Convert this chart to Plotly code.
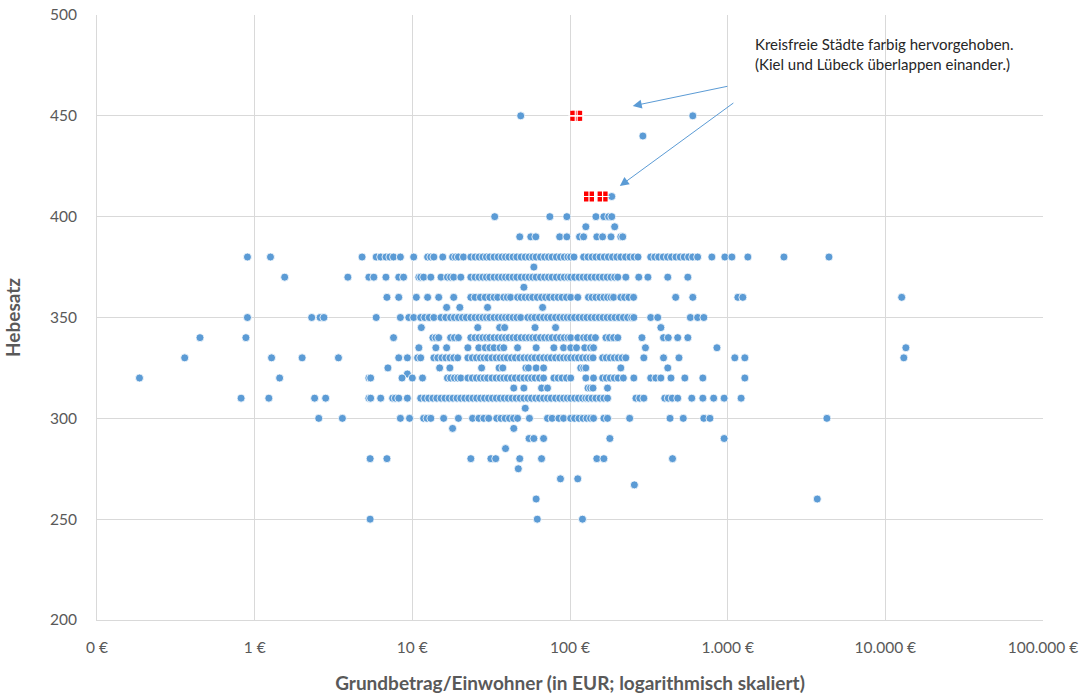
import math
import plotly.graph_objects as go

# Hebesatz rows -> Grundbetrag/Einwohner (EUR)
eur_450 = [48.7, 601]
eur_440 = [290]
eur_410 = [184]
eur_400 = [33.3, 74.5, 95.5, 146, 164, 176, 184]
eur_395 = [126, 192]
eur_390 = [48, 56.4, 60.7, 86, 95.5, 115, 122, 148, 161, 182, 210, 216]
eur_380 = [0.9, 1.26, 4.8, 5.9, 6.3, 6.8, 7.2, 7.6, 8.4, 10.2, 12.5, 13.1, 13.7, 15.6,
           18.0, 18.8, 19.6, 21.1, 23.5, 25, 26.5, 28, 29.5, 31, 33, 35, 37, 39, 41, 43.5,
           46, 49, 52, 55, 58, 61, 65, 69, 73, 77, 82, 87, 92, 97, 101, 106, 122, 130, 138,
           146, 155, 165, 175, 186, 198, 210, 225, 240, 255, 270, 325, 345, 365, 390, 415,
           440, 470, 500, 530, 565, 600, 645, 794, 960, 1064, 1343, 2275, 4390]
eur_375 = [59]
eur_370 = [1.55, 3.9, 5.3, 5.7, 6.8, 8.2, 8.8, 11, 11.3, 11.8, 13.1, 15.2, 16.7, 17.5, 18.3,
           20.3, 23.5, 25, 26.5, 28, 29.5, 31, 33, 35, 37, 39, 41, 43.5, 46, 49, 52, 55, 58,
           61, 65, 69, 73, 77, 82, 87, 92, 97, 101, 107, 114, 121, 128, 136, 144, 153, 162,
           172, 182, 192, 201, 226, 273, 312, 417, 559]
eur_365 = [51]
eur_360 = [6.9, 8.2, 10.6, 12.5, 14.7, 18.3, 23.5, 25, 27, 29, 31, 33, 34.8, 38, 40, 42,
           46.5, 49, 52, 55, 58, 62, 66, 70, 74, 79, 84, 89, 95, 101, 112, 131, 138, 146,
           155, 164, 173, 182, 189, 210, 222, 236, 253, 468, 601, 1161, 1248, 12700]
eur_355 = [16.5, 20, 30, 67]
eur_350 = [0.9, 2.3, 2.6, 2.75, 5.9, 8.4, 9.5, 10.2, 11.3, 12, 12.8, 13.7, 15.2, 16.3,
           17.5, 18.5, 19.6, 20.8, 22, 23.5, 25, 26.5, 28, 29.5, 31, 33, 35, 37, 39, 41,
           43.5, 46, 48.7, 54, 57, 60, 64, 68, 72, 76, 81, 86, 91, 96, 101, 107, 114, 121,
           128, 136, 144, 153, 162, 172, 182, 193, 205, 218, 232, 246, 254, 325, 360, 580,
           645, 706]
eur_345 = [11.4, 26, 35.8, 38.5, 60, 81, 377]
eur_340 = [0.45, 0.88, 7.6, 13.5, 14.1, 14.7, 17.5, 18.5, 19.6, 23.5, 25, 26.5, 28, 29.5,
           31, 33, 35, 37, 39, 41, 43.5, 46, 49, 52, 55, 58, 61, 65, 69, 73, 77, 82, 87, 92,
           97, 101, 112, 122, 128, 136, 145, 169, 178, 189, 201, 286, 392, 420, 482, 559]
eur_335 = [11, 14.1, 16.5, 22.5, 26.4, 29, 31, 33, 36, 38, 46.5, 61, 79, 91, 101, 110, 124,
           135, 141, 301, 855, 13500]
eur_330 = [0.36, 1.28, 2.0, 3.4, 8.2, 9.3, 10.8, 11.3, 13.7, 14.5, 15.4, 16.3, 17.3, 18.3,
           19.4, 22.5, 24, 25.5, 27, 28.5, 30, 32, 34, 36, 38, 40, 42.5, 45, 48, 51, 54, 57,
           60, 64, 68, 72, 76, 81, 86, 91, 96, 101, 107, 113, 120, 127, 134, 140, 161, 170,
           180, 191, 202, 214, 226, 294, 392, 491, 1110, 1285, 13100]
eur_325 = [7.0, 14.9, 17.3, 27.5, 35.5, 37.5, 52.5, 54.5, 61, 68, 117, 122, 126, 210, 417]
eur_322 = [9.3]
eur_320 = [0.186, 1.44, 5.3, 5.44, 8.6, 10, 11.6, 16.7, 17.5, 18.5, 19.4, 20.3, 22.5, 24,
           25.5, 27, 28.5, 30, 32, 34, 36, 38, 40, 42.5, 45, 48, 51, 54, 57, 60, 64, 68, 79,
           84, 89, 95, 101, 126, 141, 161, 170, 180, 191, 202, 218, 254, 325, 350, 377, 437,
           535, 696, 1285]
eur_315 = [44, 51, 66, 72, 130, 135, 140, 173]
eur_310 = [0.82, 1.23, 2.4, 2.82, 5.3, 5.44, 6.3, 7.5, 7.8, 8.2, 9.3, 11.3, 12, 12.7, 13.5,
           14.3, 15.2, 16.1, 17.1, 18.1, 19.2, 20.3, 21.5, 22.8, 24.2, 25.6, 27.1, 28.7,
           30.4, 32.2, 34.1, 36.1, 38.3, 40.5, 42.9, 45.5, 48.2, 51, 54, 57, 60.5, 64, 68,
           72, 76, 81, 86, 91, 96, 101, 107, 113, 120, 126, 131, 138, 146, 155, 164, 173,
           262, 277, 294, 399, 420, 445, 482, 592, 696, 815, 950, 1217]
eur_305 = [52]
eur_300 = [2.55, 3.6, 8.4, 9.6, 11.8, 12.4, 13.1, 15.8, 19.6, 24.1, 26.4, 28.4, 30.5, 34.3,
           36.5, 38.8, 41.3, 43.8, 46.5, 55.3, 72, 77, 85, 91, 101, 107, 114, 121, 128, 135,
           141, 164, 173, 239, 431, 523, 706, 772, 4260]
eur_295 = [18, 44]
eur_290 = [55, 59, 68, 179, 950]
eur_285 = [39]
eur_280 = [5.4, 6.9, 23.5, 31.5, 33.8, 48, 66, 148, 164, 447]
eur_275 = [47]
eur_270 = [87, 112]
eur_267 = [256]
eur_260 = [61, 3700]
eur_250 = [5.4, 62, 120]

rows = [(450, eur_450), (440, eur_440), (410, eur_410), (400, eur_400), (395, eur_395),
        (390, eur_390), (380, eur_380), (375, eur_375), (370, eur_370), (365, eur_365),
        (360, eur_360), (355, eur_355), (350, eur_350), (345, eur_345), (340, eur_340),
        (335, eur_335), (330, eur_330), (325, eur_325), (322, eur_322), (320, eur_320),
        (315, eur_315), (310, eur_310), (305, eur_305), (300, eur_300), (295, eur_295),
        (290, eur_290), (285, eur_285), (280, eur_280), (275, eur_275), (270, eur_270),
        (267, eur_267), (260, eur_260), (250, eur_250)]

# Kreisfreie Staedte (Kiel, Luebeck, Flensburg, Neumuenster)
city_eur = [108, 111, 132, 161]
city_hebesatz = [450, 450, 410, 410]

tick_vals = [0.1, 1, 10, 100, 1000, 10000, 100000]
tick_text = ["0 €", "1 €", "10 €", "100 €", "1.000 €", "10.000 €", "100.000 €"]

x_all = [v for h, vals in rows for v in vals]
y_all = [h for h, vals in rows for v in vals]

grey = "#595959"
blue = "#5b9bd5"
font_family = "Lato, Open Sans, sans-serif"

fig = go.Figure()
fig.add_trace(go.Scatter(
    x=x_all, y=y_all, mode="markers",
    marker=dict(color=blue, size=8, line=dict(color="white", width=0.8)),
    showlegend=False, hoverinfo="x+y"
))
fig.add_trace(go.Scatter(
    x=city_eur, y=city_hebesatz, mode="markers",
    marker=dict(color="#ff0000", symbol="square", size=10, line=dict(width=0)),
    showlegend=False
))
fig.add_trace(go.Scatter(
    x=city_eur, y=city_hebesatz, mode="markers",
    marker=dict(symbol="cross-thin", size=10, line=dict(color="white", width=1.2)),
    showlegend=False, hoverinfo="skip"
))

# arrows from the note to the red markers
arrows = [((250, 454.9), (1018, 464.8)), ((207, 415.2), (1111, 456.9))]
for (tx, ty), (sx, sy) in arrows:
    fig.add_annotation(
        x=math.log10(tx), y=ty, ax=math.log10(sx), ay=sy,
        xref="x", yref="y", axref="x", ayref="y",
        text="", showarrow=True, arrowhead=2, arrowsize=1.8,
        arrowwidth=1, arrowcolor=blue
    )

fig.add_annotation(
    xref="paper", yref="paper", x=0.693, y=0.935,
    xanchor="left", yanchor="middle", align="left", showarrow=False,
    text="Kreisfreie Städte farbig hervorgehoben.<br>(Kiel und Lübeck überlappen einander.)",
    font=dict(family=font_family, size=15, color="#262626")
)

fig.update_layout(
    width=1087, height=694,
    margin=dict(l=97, r=44, t=15, b=74),
    plot_bgcolor="white", paper_bgcolor="white",
    font=dict(family=font_family, color=grey, size=15.5),
    xaxis=dict(
        type="log", range=[-1, 5], automargin=False,
        tickvals=tick_vals, ticktext=tick_text, ticklabeloverflow="allow",
        showgrid=True, gridcolor="#d9d9d9", gridwidth=1,
        showline=True, linecolor="#d9d9d9", ticks="",
        zeroline=False, ticklabelstandoff=13,
        title=dict(text="<b>Grundbetrag/Einwohner (in EUR; logarithmisch skaliert)</b>",
                   font=dict(size=19, color=grey), standoff=22)
    ),
    yaxis=dict(
        range=[200, 500], dtick=50, automargin=False, ticklabeloverflow="allow",
        showgrid=True, gridcolor="#d9d9d9", gridwidth=1,
        showline=True, linecolor="#d9d9d9", ticks="",
        zeroline=False, ticklabelstandoff=16,
        title=dict(text="<b>Hebesatz</b>", font=dict(size=19, color=grey), standoff=24)
    )
)

# drop the default 8px body margin so the figure fills the window exactly
fig.write_html("out.html", config={"displayModeBar": False},
               post_script="document.body.style.margin = '0';")
